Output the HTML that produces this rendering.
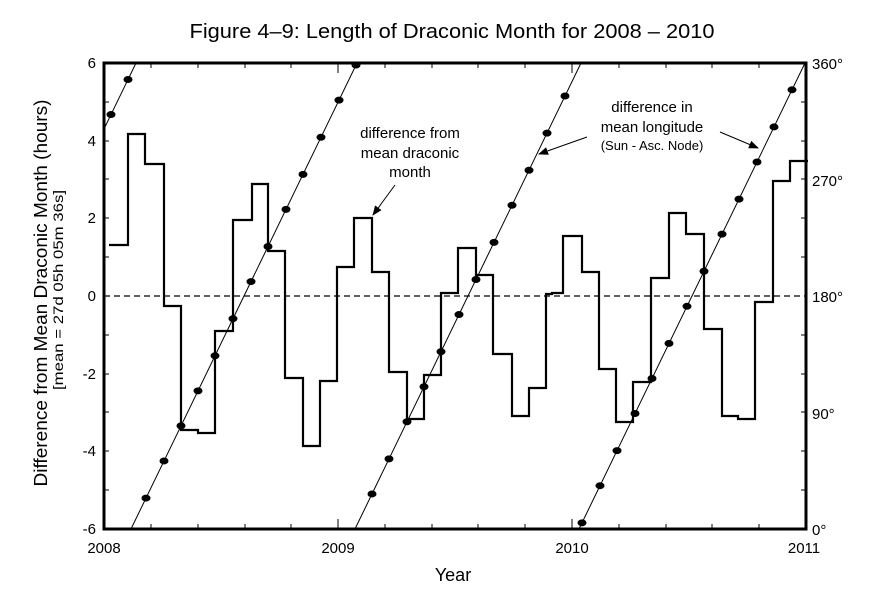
<!DOCTYPE html>
<html><head><meta charset="utf-8"><style>
html,body{margin:0;padding:0;background:#fff;}
svg{display:block;font-family:"Liberation Sans",Arial,sans-serif;}
</style></head><body>
<svg width="894" height="609" viewBox="0 0 894 609" xmlns="http://www.w3.org/2000/svg">
<defs><clipPath id="c"><rect x="104" y="63" width="702" height="466"/></clipPath>
<marker id="ah" markerWidth="10" markerHeight="8" refX="9" refY="4" orient="auto" markerUnits="userSpaceOnUse"><path d="M0,0 L10,4 L0,8 z" fill="#000"/></marker></defs>
<text x="452" y="38" font-size="20" text-anchor="middle" textLength="525" lengthAdjust="spacingAndGlyphs">Figure 4–9: Length of Draconic Month for 2008 – 2010</text>
<g stroke="#000" stroke-width="1">
<path d="M104,102h5M104,141h5M104,179h5M104,218h5M104,257h5M104,335h5M104,374h5M104,412h5M104,451h5M104,490h5"/>
<path d="M806,102h-5M806,141h-5M806,179h-5M806,218h-5M806,257h-5M806,335h-5M806,374h-5M806,412h-5M806,451h-5M806,490h-5"/>
<path d="M151,529v-5M198,529v-5M245,529v-5M291,529v-5M338,529v-10M385,529v-5M432,529v-5M478,529v-5M525,529v-5M572,529v-10M619,529v-5M666,529v-5M712,529v-5M759,529v-5"/>
<path d="M151,63v5M198,63v5M245,63v5M291,63v5M338,63v10M385,63v5M432,63v5M478,63v5M525,63v5M572,63v10M619,63v5M666,63v5M712,63v5M759,63v5"/>
</g>
<line x1="104" y1="296" x2="806" y2="296" stroke="#000" stroke-width="1.2" stroke-dasharray="6,4"/>
<g clip-path="url(#c)" stroke="#000" stroke-width="1" fill="none">
<line x1="-90" y1="529" x2="136" y2="63"/>
<line x1="131" y1="529" x2="357" y2="63"/>
<line x1="355" y1="529" x2="581" y2="63"/>
<line x1="579" y1="529" x2="805" y2="63"/>
</g>
<g fill="#000" id="dots"></g>
<polyline fill="none" stroke="#000" stroke-width="2.2" points="109,245 128,245 128,134 145,134 145,164 164,164 164,306 181,306 181,430 198,430 198,433 215,433 215,331 233,331 233,220 252,220 252,184 268,184 268,251 285,251 285,378 303,378 303,446 320,446 320,381 337,381 337,267 354,267 354,218 372,218 372,272 389,272 389,372 407,372 407,419 424,419 424,375 441,375 441,293 458,293 458,248 476,248 476,275 493,275 493,354 512,354 512,416 529,416 529,388 546,388 546,294 552,294 552,293 563,293 563,236 582,236 582,272 599,272 599,369 616,369 616,422 633,422 633,382 651,382 651,278 669,278 669,213 686,213 686,234 704,234 704,329 722,329 722,416 738,416 738,419 755,419 755,302 773,302 773,181 790,181 790,161 808,161"/>
<rect x="104" y="63" width="702" height="466" fill="none" stroke="#000" stroke-width="3"/>
<g font-size="15" text-anchor="end">
<text x="96" y="68">6</text><text x="96" y="146">4</text><text x="96" y="223">2</text><text x="96" y="301">0</text><text x="96" y="379">-2</text><text x="96" y="456">-4</text><text x="96" y="534">-6</text>
</g>
<g font-size="15" text-anchor="start">
<text x="812" y="69">360°</text><text x="812" y="186">270°</text><text x="812" y="302">180°</text><text x="812" y="419">90°</text><text x="812" y="535">0°</text>
</g>
<g font-size="15" text-anchor="middle">
<text x="104" y="553">2008</text><text x="338" y="553">2009</text><text x="572" y="553">2010</text><text x="804" y="553">2011</text>
</g>
<text x="453" y="581" font-size="18" text-anchor="middle">Year</text>
<text transform="translate(47,293) rotate(-90)" font-size="18" text-anchor="middle" textLength="387" lengthAdjust="spacingAndGlyphs">Difference from Mean Draconic Month (hours)</text>
<text transform="translate(63,290) rotate(-90)" font-size="14" text-anchor="middle" textLength="200" lengthAdjust="spacingAndGlyphs">[mean = 27d 05h 05m 36s]</text>
<g font-size="15" text-anchor="middle">
<text x="410" y="138">difference from</text><text x="410" y="158">mean draconic</text><text x="410" y="177">month</text>
<text x="652" y="112">difference in</text><text x="652" y="132">mean longitude</text><text x="652" y="150" font-size="13">(Sun - Asc. Node)</text>
</g>
<g stroke="#000" stroke-width="1" marker-end="url(#ah)">
<line x1="395" y1="185" x2="373" y2="215"/>
<line x1="587" y1="137" x2="539" y2="154"/>
<line x1="720" y1="132" x2="758" y2="148"/>
</g>
<script>
var g=document.getElementById('dots');
function d(x0,xs){xs.forEach(function(x){var y=529-(x-x0)*466/226;var e=document.createElementNS('http://www.w3.org/2000/svg','ellipse');e.setAttribute('cx',x);e.setAttribute('cy',y);e.setAttribute('rx',4.5);e.setAttribute('ry',3.5);g.appendChild(e);});}
d(-90,[111,128]);
d(131,[146,164,181,198,215,233,251,268,286,303,321,339,356]);
d(355,[372,389,407,424,441,459,476,494,512,529,547,565]);
d(579,[582,600,617,635,652,669,687,704,722,739,757,774,792]);
</script>
</svg>
</body></html>
